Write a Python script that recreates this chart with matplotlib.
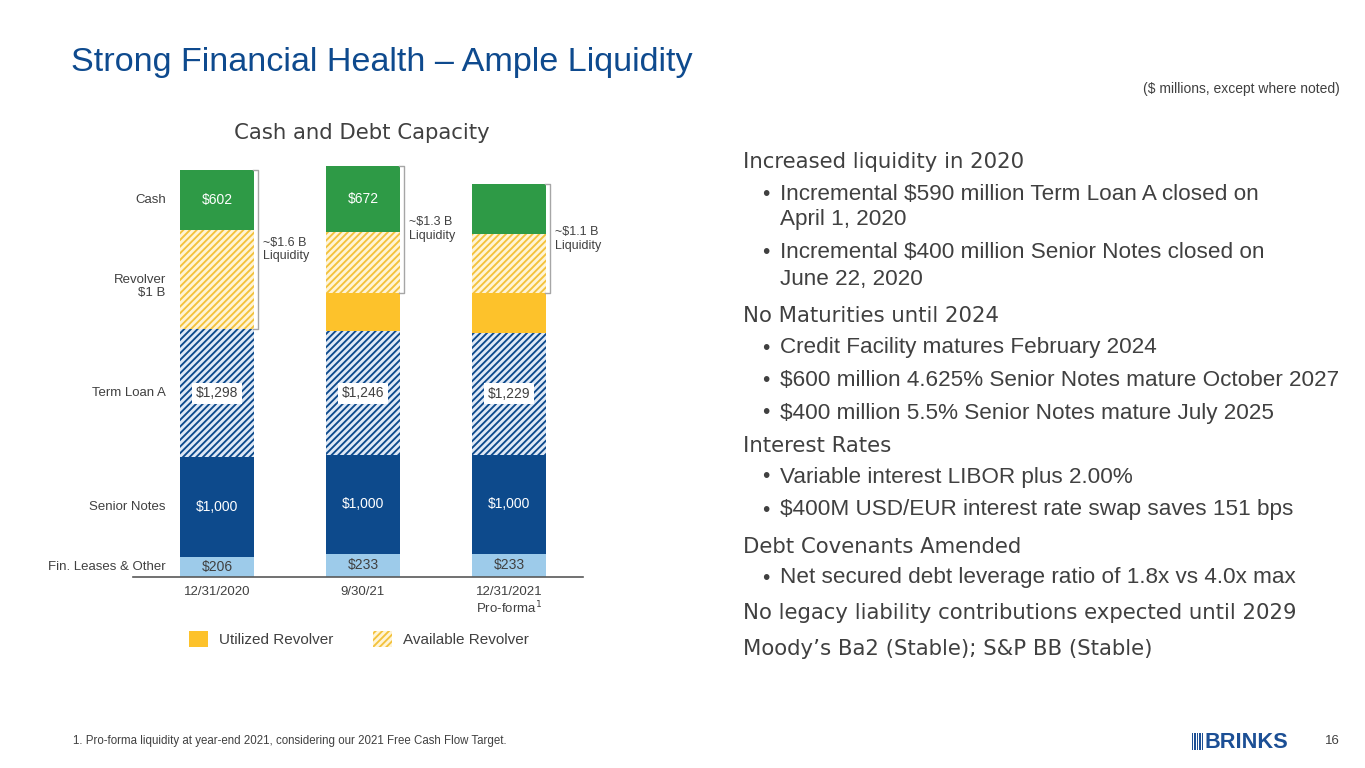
import matplotlib
matplotlib.use("Agg")
import matplotlib.pyplot as plt
from matplotlib.patches import Patch, Rectangle
import numpy as np

# ---------------- data ----------------
periods = ["12/31/2020", "9/30/21", "12/31/2021\nPro-forma$^1$"]
fin_leases = [206, 233, 233]
senior_notes = [1000, 1000, 1000]
term_loan_a = [1298, 1246, 1229]
utilized_revolver = [0, 390, 400]
available_revolver = [1000, 610, 600]
cash = [602, 672, 500]
cash_labels = ["$602", "$672", ""]
fin_labels = ["$206", "$233", "$233"]
senior_labels = ["$1,000", "$1,000", "$1,000"]
tla_labels = ["$1,298", "$1,246", "$1,229"]
liquidity_labels = ["~$1.6 B\nLiquidity", "~$1.3 B\nLiquidity", "~$1.1 B\nLiquidity"]
row_labels = ["Cash", "Revolver\n$1 B", "Term Loan A", "Senior Notes", "Fin. Leases & Other"]

C_GREEN = "#2e9a46"
C_UTIL = "#fdc22b"
C_AVAIL_EDGE = "#f3c23c"
C_AVAIL_FACE = "#fff4d6"
C_SENIOR = "#0d4a8c"
C_TLA = "#0d4a8c"
C_TLA_FACE = "#dfe9f6"
C_FIN = "#9dcbea"
C_TEXT = "#404040"
C_GRAY = "#595959"
C_BLUE = "#0e4a8e"

plt.rcParams["font.family"] = ["Liberation Sans", "DejaVu Sans"]
plt.rcParams["hatch.linewidth"] = 1.35

W, H = 1365, 768
fig = plt.figure(figsize=(W / 100, H / 100), dpi=100)

def fx(px):
    return px / W

def fy(py):
    return 1 - py / H

# axes placement
scale = 0.09912  # px per $
ytop = 4300
ax_h = ytop * scale
ax = fig.add_axes([fx(133), fy(577), fx(450), ax_h / H])
ax.set_xlim(-0.575, 2.507)
ax.set_ylim(0, ytop)
for s in ["top", "right", "left"]:
    ax.spines[s].set_visible(False)
ax.spines["bottom"].set_color(C_GRAY)
ax.spines["bottom"].set_linewidth(1.2)
ax.set_yticks([])
ax.set_xticks([])

x = np.arange(len(periods))
bw = 0.507

b0 = np.zeros(3)
ax.bar(x, fin_leases, bw, bottom=b0, color=C_FIN, linewidth=0)
b1 = b0 + np.array(fin_leases)
ax.bar(x, senior_notes, bw, bottom=b1, color=C_SENIOR, linewidth=0)
b2 = b1 + np.array(senior_notes)
ax.bar(x, term_loan_a, bw, bottom=b2, facecolor=C_TLA_FACE, edgecolor=C_TLA,
       hatch="/////", linewidth=0)
b3 = b2 + np.array(term_loan_a)
ax.bar(x, utilized_revolver, bw, bottom=b3, color=C_UTIL, linewidth=0)
b4 = b3 + np.array(utilized_revolver)
ax.bar(x, available_revolver, bw, bottom=b4, facecolor=C_AVAIL_FACE,
       edgecolor=C_AVAIL_EDGE, hatch="/////", linewidth=0)
b5 = b4 + np.array(available_revolver)
ax.bar(x, cash, bw, bottom=b5, color=C_GREEN, linewidth=0)
b6 = b5 + np.array(cash)

lbl_fs = 10
for i in range(3):
    ax.text(x[i], b0[i] + fin_leases[i] / 2, fin_labels[i], ha="center", va="center",
            fontsize=lbl_fs, color=C_TEXT)
    ax.text(x[i], b1[i] + senior_notes[i] / 2, senior_labels[i], ha="center", va="center",
            fontsize=lbl_fs, color="white")
    ax.text(x[i], b2[i] + term_loan_a[i] / 2, tla_labels[i], ha="center", va="center",
            fontsize=lbl_fs, color=C_TEXT,
            bbox=dict(boxstyle="square,pad=0.25", facecolor="white", edgecolor="none"))
    if cash_labels[i]:
        ax.text(x[i], b5[i] + cash[i] / 2, cash_labels[i], ha="center", va="center",
                fontsize=lbl_fs, color="white")
    # bracket
    bx = x[i] + bw / 2 + 0.03
    ax.plot([bx - 0.035, bx, bx, bx - 0.035], [b6[i], b6[i], b4[i], b4[i]],
            color="#a6a6a6", linewidth=1.0, clip_on=False)
    ax.text(bx + 0.035, (b6[i] + b4[i]) / 2, liquidity_labels[i], ha="left", va="center",
            fontsize=9, color=C_TEXT, linespacing=1.2)
    # x labels
    ax.text(x[i], -90, periods[i], ha="center", va="top", fontsize=9.5, color=C_TEXT,
            linespacing=1.15)

# row labels (left)
row_y = [b5[0] + cash[0] / 2, b4[0] + 430, b2[0] + term_loan_a[0] / 2,
         b1[0] + senior_notes[0] / 2, 100]
for lab, yy in zip(row_labels, row_y):
    ax.text(-0.35, yy, lab, ha="right", va="center", fontsize=9.5, color=C_TEXT,
            linespacing=1.15)

# legend
leg = fig.legend(handles=[Patch(facecolor=C_UTIL, edgecolor="none"),
                          Patch(facecolor=C_AVAIL_FACE, edgecolor=C_AVAIL_EDGE, hatch="/////",
                                linewidth=0)],
                 labels=["Utilized Revolver", "Available Revolver"], ncol=2, frameon=False,
                 loc="center", bbox_to_anchor=(fx(359), fy(639)), fontsize=11,
                 handlelength=1.25, handleheight=1.25, columnspacing=2.6, handletextpad=0.7,
                 labelcolor=C_TEXT)

# chart title
fig.text(fx(362), fy(133), "Cash and Debt Capacity", ha="center", va="center",
         fontsize=15.3, color=C_TEXT, family=["DejaVu Sans"])

# slide title
fig.text(fx(71), fy(62), "Strong Financial Health \u2013 Ample Liquidity", ha="left",
         va="center", fontsize=24.6, color=C_BLUE)
fig.text(fx(1340), fy(89), "($ millions, except where noted)", ha="right", va="center",
         fontsize=10, color=C_TEXT)

# right side text
items = [
    ("h", "Increased liquidity in 2020", 162),
    ("b", "Incremental $590 million Term Loan A closed on", 194),
    ("c", "April 1, 2020", 220),
    ("b", "Incremental $400 million Senior Notes closed on", 253),
    ("c", "June 22, 2020", 279),
    ("h", "No Maturities until 2024", 316),
    ("b", "Credit Facility matures February 2024", 348),
    ("b", "$600 million 4.625% Senior Notes mature October 2027", 381),
    ("b", "$400 million 5.5% Senior Notes mature July 2025", 413),
    ("h", "Interest Rates", 446),
    ("b", "Variable interest LIBOR plus 2.00%", 477),
    ("b", "$400M USD/EUR interest rate swap saves 151 bps", 510),
    ("h", "Debt Covenants Amended", 547),
    ("b", "Net secured debt leverage ratio of 1.8x vs 4.0x max", 578),
    ("h", "No legacy liability contributions expected until 2029", 613),
    ("h", "Moody\u2019s Ba2 (Stable); S&P BB (Stable)", 649),
]
for kind, txt, yy in items:
    if kind == "h":
        fig.text(fx(743), fy(yy), txt, ha="left", va="center", fontsize=15.3,
                 color=C_TEXT, family=["DejaVu Sans"])
    else:
        if kind == "b":
            fig.text(fx(762), fy(yy), "\u2022", ha="left", va="center", fontsize=15,
                     color=C_TEXT)
        fig.text(fx(780), fy(yy), txt, ha="left", va="center", fontsize=16.2,
                 color=C_TEXT)

# footnote
fig.text(fx(73), fy(741), "1. Pro-forma liquidity at year-end 2021, considering our 2021 Free Cash Flow Target.",
         ha="left", va="center", fontsize=8.3, color=C_TEXT)
fig.text(fx(1340), fy(741), "16", ha="right", va="center", fontsize=9.5, color=C_TEXT)

# logo
for k in range(5):
    fig.patches.append(Rectangle((fx(1192 + k * 2.4), fy(750)), fx(1.3), 17 / H,
                                 transform=fig.transFigure, facecolor="#1c4f95",
                                 edgecolor="none"))
fig.text(fx(1204), fy(742), "BRINKS", ha="left", va="center", fontsize=15.7,
         fontweight="bold", color="#1c4f95", family=["Liberation Sans"])

fig.savefig("out.png", dpi=100)
